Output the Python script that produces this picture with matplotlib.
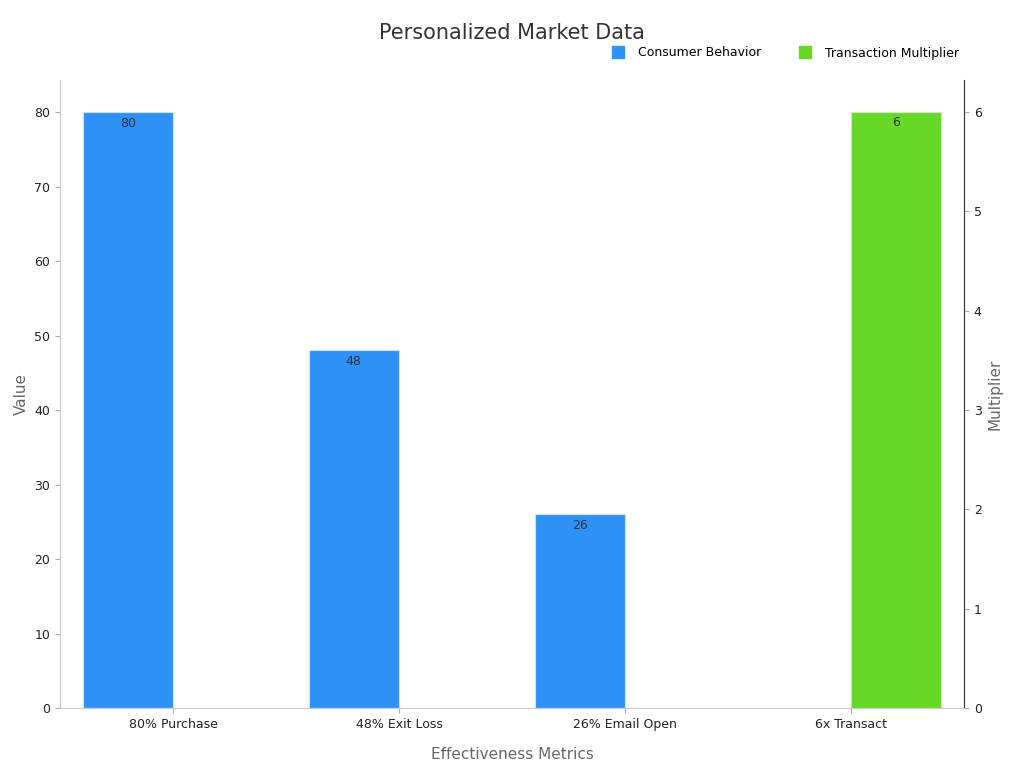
import matplotlib
matplotlib.use("Agg")
import matplotlib.pyplot as plt
import numpy as np

categories = ["80% Purchase", "48% Exit Loss", "26% Email Open", "6x Transact"]
consumer = [80, 48, 26]
multiplier = [6]

fig = plt.figure(figsize=(10.24, 7.68), dpi=100)
ax = fig.add_axes([60/1024, 60/768, 904/1024, 628/768])
ax2 = ax.twinx()
x = np.arange(len(categories))
w = 0.4
b1 = ax.bar(x[:3] - w/2, consumer, w, color="#2e91f8", edgecolor="#dddddd", linewidth=0.8, label="Consumer Behavior")
b2 = ax2.bar(x[3:] + w/2, multiplier, w, color="#66d926", edgecolor="#dddddd", linewidth=0.8, label="Transaction Multiplier")
for r, v in zip(b1, consumer):
    ax.text(r.get_x()+r.get_width()/2, v-0.6, f"{v}", ha="center", va="top", fontsize=9, color="#333333")
for r, v in zip(b2, multiplier):
    ax2.text(r.get_x()+r.get_width()/2, v-0.045, f"{v}", ha="center", va="top", fontsize=9, color="#333333")
ax.set_xlim(-0.5, 3.5)
ax.set_ylim(0, 84.3)
ax2.set_ylim(0, 6.32)
ax.set_xticks(x)
ax.set_xticklabels(categories, fontsize=9, color="#222222")
ax.set_yticks(range(0, 81, 10))
ax2.set_yticks(range(0, 7))
for a in (ax, ax2):
    a.tick_params(labelsize=9, colors="#222222", color="#aaaaaa")
    a.spines["top"].set_visible(False)
    for s in ("left", "right", "bottom"):
        a.spines[s].set_color("#cccccc")
ax2.spines["right"].set_color("#333333")
ax.set_xlabel("Effectiveness Metrics", fontsize=11, color="#666666", labelpad=12)
ax.set_ylabel("Value", fontsize=11, color="#666666")
ax2.set_ylabel("Multiplier", fontsize=11, color="#666666")
fig.text(512/1024, 1-33/768, "Personalized Market Data", ha="center", va="center", fontsize=15, color="#333333")
h1, l1 = ax.get_legend_handles_labels()
h2, l2 = ax2.get_legend_handles_labels()
from matplotlib.lines import Line2D
hs = [Line2D([], [], marker="s", ls="", color="#2e91f8", markersize=8),
      Line2D([], [], marker="s", ls="", color="#66d926", markersize=8)]
fig.legend(hs, l1+l2, loc="center right", bbox_to_anchor=(970/1024, 1-53/768), ncol=2, frameon=False, fontsize=9, handletextpad=0.6, columnspacing=2.5)
fig.savefig("out.png", dpi=100)
